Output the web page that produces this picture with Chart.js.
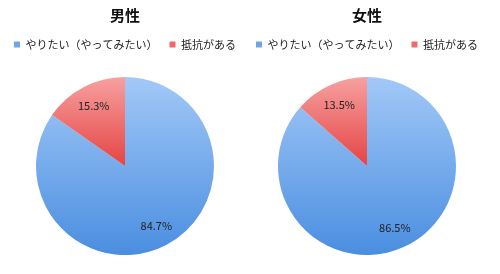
<!DOCTYPE html>
<html>
<head>
<meta charset="utf-8">
<script src="https://cdn.jsdelivr.net/npm/chart.js@4"></script>
<style>
  body { margin: 0; background: #fff; }
  #wrap { position: relative; width: 500px; height: 274px; }
  .box { position: absolute; top: 0; width: 250px; height: 274px; }
</style>
</head>
<body>
<div id="wrap">
  <div class="box" style="left:0"><canvas id="male"></canvas></div>
  <div class="box" style="left:242px"><canvas id="female"></canvas></div>
</div>
<script>
const labels = ['やりたい（やってみたい）', '抵抗がある'];
const maleValues = [84.7, 15.3];
const femaleValues = [86.5, 13.5];

const FONT = '"Noto Sans CJK JP", "Noto Sans", sans-serif';
const topColors = ['#a2c8f7', '#f7a0a0'];
const bottomColors = ['#4a8ee0', '#e54444'];
const legendColors = ['#6ea6ea', '#ee6a6a'];

function sliceFill(c) {
  const area = c.chart.chartArea;
  const i = c.dataIndex;
  if (!area) return bottomColors[i];
  // red slice sits in the upper half, so its gradient ends at the centre
  const end = i === 0 ? area.bottom : (area.top + area.bottom) / 2;
  const g = c.chart.ctx.createLinearGradient(0, area.top, 0, end);
  g.addColorStop(0, topColors[i]);
  g.addColorStop(1, bottomColors[i]);
  return g;
}

// percent labels inside slices
const sliceLabels = {
  id: 'sliceLabels',
  afterDatasetsDraw(chart) {
    const { ctx } = chart;
    const meta = chart.getDatasetMeta(0);
    ctx.save();
    ctx.font = '11px ' + FONT;
    ctx.fillStyle = '#222';
    ctx.textAlign = 'center';
    ctx.textBaseline = 'middle';
    meta.data.forEach((arc, i) => {
      const mid = (arc.startAngle + arc.endAngle) / 2;
      const d = arc.outerRadius * 0.76;
      ctx.fillText(chart.data.datasets[0].data[i].toFixed(1) + '%', arc.x + Math.cos(mid) * d, arc.y + Math.sin(mid) * d);
    });
    ctx.restore();
  }
};

// extra room under the legend
const legendGap = {
  id: 'legendGap',
  beforeInit(chart) {
    const fit = chart.legend.fit;
    chart.legend.fit = function () {
      fit.bind(chart.legend)();
      this.height += 17;
    };
  }
};

function makePie(id, title, values) {
  new Chart(document.getElementById(id), {
    type: 'pie',
    data: {
      labels: labels,
      datasets: [{
        data: values,
        backgroundColor: sliceFill,
        borderWidth: 0
      }]
    },
    options: {
      responsive: true,
      maintainAspectRatio: false,
      animation: false,
      layout: { padding: { bottom: 19 } },
      plugins: {
        title: {
          display: true,
          text: title,
          color: '#111',
          font: { family: FONT, size: 15, weight: 'bold' },
          padding: { top: 6, bottom: 3 }
        },
        legend: {
          position: 'top',
          labels: {
            color: '#222',
            font: { family: FONT, size: 11 },
            boxWidth: 6,
            boxHeight: 6,
            padding: 12,
            generateLabels: chart => chart.data.labels.map((text, i) => ({
              text: text,
              fillStyle: legendColors[i],
              strokeStyle: legendColors[i],
              lineWidth: 0,
              fontColor: '#222',
              index: i
            }))
          }
        },
        tooltip: { enabled: false }
      }
    },
    plugins: [sliceLabels, legendGap]
  });
}

makePie('male', '男性', maleValues);
makePie('female', '女性', femaleValues);
</script>
</body>
</html>
